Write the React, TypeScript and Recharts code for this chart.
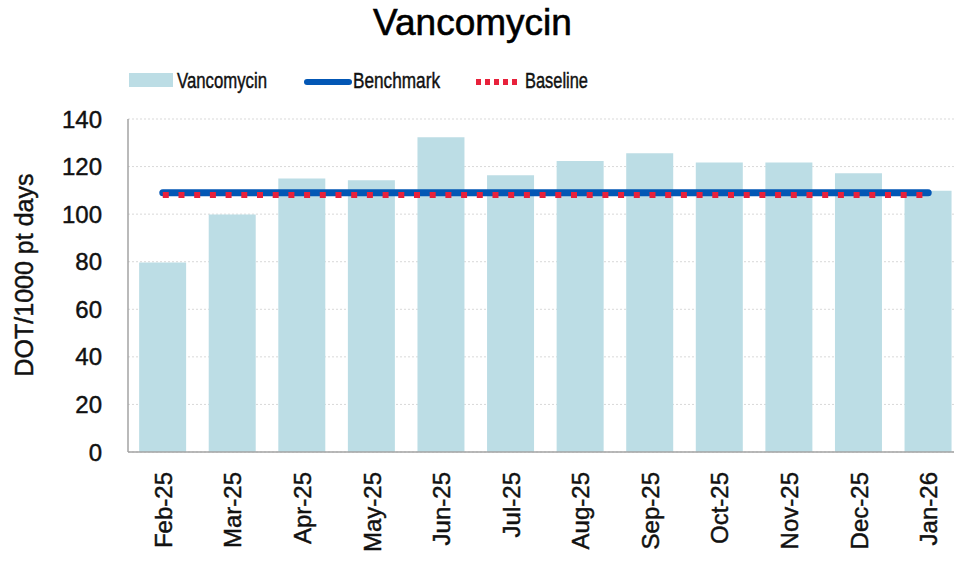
import * as React from 'react';
import { ComposedChart, Bar, Line, XAxis, YAxis, CartesianGrid } from 'recharts';

// monthly values
const months = ['Feb-25', 'Mar-25', 'Apr-25', 'May-25', 'Jun-25', 'Jul-25', 'Aug-25', 'Sep-25', 'Oct-25', 'Nov-25', 'Dec-25', 'Jan-26'];
const vancomycin = [79.7, 99.8, 115, 114.3, 132.3, 116.4, 122.3, 125.6, 121.7, 121.7, 117.2, 109.8];
const benchmark = [109, 109, 109, 109, 109, 109, 109, 109, 109, 109, 109, 109];
const baseline = [108, 108, 108, 108, 108, 108, 108, 108, 108, 108, 108, 108];
const yTicks = [0, 20, 40, 60, 80, 100, 120, 140];

const data = months.map((m, i) => ({
  month: m,
  vanco: vancomycin[i],
  benchmark: benchmark[i],
  baseline: baseline[i],
}));

const FONT = '"Liberation Sans", Arial, Helvetica, sans-serif';
const BAR = '#bcdde5';
const BLUE = '#0357b5';
const RED = '#e8213b';
const AXIS = '#a3a3a3';
const INK = '#111';
// the source text is a little heavier than plain regular
const heavy = { stroke: INK, strokeWidth: 0.45 };

const MonthTick = (props: any) => {
  const { x, payload } = props;
  const tx = x + 9;
  const ty = 472;
  return (
    <text
      x={tx}
      y={ty}
      transform={`rotate(-90, ${tx}, ${ty})`}
      textAnchor="end"
      fontSize={24}
      fontFamily={FONT}
      fill={INK}
      {...heavy}
    >
      {payload.value}
    </text>
  );
};

export default function App() {
  return (
    <div style={{ position: 'fixed', left: 0, top: 0, width: 954, height: 562, overflow: 'hidden', background: '#fff' }}>
      <ComposedChart
        width={980}
        height={562}
        data={data}
        margin={{ top: 119, right: 17, left: 0, bottom: 0 }}
        barCategoryGap="16%"
        style={{ position: 'absolute', left: 0, top: 0 }}
      >
        <CartesianGrid vertical={false} stroke="#d9d9d9" strokeDasharray="2 2" />
        <XAxis
          dataKey="month"
          height={110}
          axisLine={{ stroke: AXIS, strokeWidth: 1.5 }}
          tickLine={false}
          tick={<MonthTick />}
          interval={0}
        />
        <YAxis
          width={128}
          domain={[0, 140]}
          ticks={yTicks}
          axisLine={{ stroke: AXIS, strokeWidth: 1.5 }}
          tickLine={false}
          tickSize={0}
          tickMargin={26}
          tick={{ fontSize: 24, fontFamily: FONT, fill: INK, ...heavy }}
        />
        <Bar dataKey="vanco" fill={BAR} isAnimationActive={false} />
        <Line
          dataKey="benchmark"
          stroke={BLUE}
          strokeWidth={7}
          strokeLinecap="round"
          dot={false}
          activeDot={false}
          isAnimationActive={false}
        />
        <Line
          dataKey="baseline"
          stroke={RED}
          strokeWidth={6}
          strokeDasharray="6 9.7"
          dot={false}
          activeDot={false}
          isAnimationActive={false}
        />
      </ComposedChart>
      <svg width={954} height={562} style={{ position: 'absolute', left: 0, top: 0, pointerEvents: 'none' }}>
        <text x={472.5} y={35} textAnchor="middle" fontSize={37} fontFamily={FONT} fill="#000" stroke="#000" strokeWidth={0.6}>
          Vancomycin
        </text>
        <rect x={129} y={73} width={44} height={14} fill={BAR} />
        <text x={177} y={88} fontSize={22} fontFamily={FONT} fill={INK} {...heavy} textLength={90} lengthAdjust="spacingAndGlyphs">
          Vancomycin
        </text>
        <line x1={307} y1={82} x2={349} y2={82} stroke={BLUE} strokeWidth={6} strokeLinecap="round" />
        <text x={353} y={88} fontSize={22} fontFamily={FONT} fill={INK} {...heavy} textLength={87} lengthAdjust="spacingAndGlyphs">
          Benchmark
        </text>
        <line x1={476} y1={82} x2={521} y2={82} stroke={RED} strokeWidth={6} strokeDasharray="5 4" />
        <text x={525} y={88} fontSize={22} fontFamily={FONT} fill={INK} {...heavy} textLength={63} lengthAdjust="spacingAndGlyphs">
          Baseline
        </text>
        <text
          x={33}
          y={275}
          transform="rotate(-90, 33, 275)"
          textAnchor="middle"
          fontSize={25}
          fontFamily={FONT}
          fill={INK}
          {...heavy}
        >
          DOT/1000 pt days
        </text>
      </svg>
    </div>
  );
}
